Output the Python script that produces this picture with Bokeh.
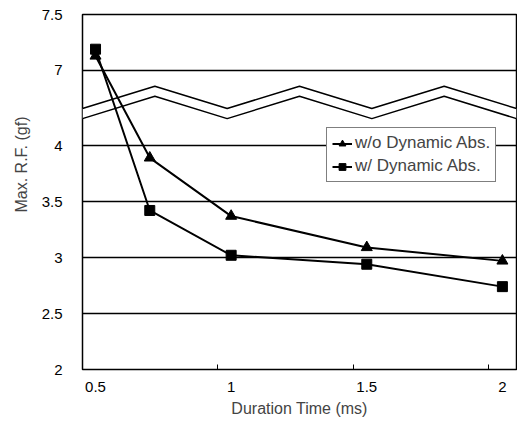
import numpy as np
from bokeh.plotting import figure
from bokeh.models import FixedTicker, Legend, LegendItem, Range1d, Title
from bokeh.embed import file_html
from bokeh.resources import INLINE

# ---- data ----
duration = [0.5, 0.7, 1.0, 1.5, 2.0]
wo_dynamic = [7.13, 3.89, 3.37, 3.09, 2.97]
w_dynamic = [7.19, 3.42, 3.02, 2.94, 2.74]
y_tick_values = [2, 2.5, 3, 3.5, 4, 7, 7.5]
x_tick_values = [0.5, 1, 1.5, 2]

# broken axis: values above the break are shifted down
BREAK_LOW = 4.0
BREAK_HIGH = 7.0
GAP = 0.67


def disp(v):
    return v if v <= BREAK_LOW else round(v - BREAK_HIGH + BREAK_LOW + GAP, 6)


wo_d = [disp(v) for v in wo_dynamic]
w_d = [disp(v) for v in w_dynamic]
y_ticks = [disp(v) for v in y_tick_values]

FONT = "Liberation Sans"
x0, x1 = 0.452, 2.052
p = figure(width=517, height=423, output_backend="svg", toolbar_location=None,
           x_range=Range1d(x0, x1), y_range=Range1d(2, disp(7.5)),
           min_border_left=82, min_border_right=1, min_border_top=14,
           min_border_bottom=54)
p.outline_line_color = "black"
p.outline_line_width = 1.5

# axes
p.yaxis.ticker = FixedTicker(ticks=y_ticks)
p.yaxis.major_label_overrides = {t: (str(v) if v != int(v) else str(int(v)))
                                 for t, v in zip(y_ticks, y_tick_values)}
p.xaxis.ticker = FixedTicker(ticks=x_tick_values,
                             minor_ticks=[t - 0.05 for t in x_tick_values[1:]])
p.xaxis.major_label_overrides = {0.5: "0.5", 1: "1", 1.5: "1.5", 2: "2"}
for ax in (p.xaxis[0], p.yaxis[0]):
    ax.axis_line_color = None
    ax.major_tick_line_color = None
    ax.major_label_text_font = FONT
    ax.major_label_text_font_size = "15px"
    ax.major_label_text_color = "black"
p.xaxis.minor_tick_in = 5
p.xaxis.minor_tick_out = 0
p.xaxis.minor_tick_line_color = "black"
p.yaxis.minor_tick_line_color = None
p.yaxis.major_label_standoff = 14
p.xaxis.major_label_standoff = 6
p.xaxis.axis_label = "Duration Time (ms)"
p.xaxis.axis_label_text_font = FONT
p.xaxis.axis_label_text_font_size = "16px"
p.xaxis.axis_label_text_font_style = "normal"
p.xaxis.axis_label_standoff = 5

p.xgrid.grid_line_color = None
p.ygrid.grid_line_color = "black"
p.ygrid.grid_line_width = 1.3

# axis break (zigzag strip)
zx = np.linspace(x0, x1, 7)
amp, trough, thick = 0.2, 4.33, 0.09
upper = [trough + (amp if i % 2 else 0) for i in range(7)]
lower = [u - thick for u in upper]
p.patch(list(zx) + list(zx[::-1]), upper + lower[::-1],
        fill_color="white", line_color=None)
p.line(zx, upper, line_color="black", line_width=1.5)
p.line(zx, lower, line_color="black", line_width=1.5)

# series
l1 = p.line(duration, wo_d, line_color="black", line_width=2)
m1 = p.scatter(duration, wo_d, marker="triangle", size=11, color="black")
l2 = p.line(duration, w_d, line_color="black", line_width=2)
m2 = p.scatter(duration, w_d, marker="square", size=10, color="black")

legend = Legend(items=[LegendItem(label="w/o Dynamic Abs.", renderers=[l1, m1]),
                       LegendItem(label="w/ Dynamic Abs.", renderers=[l2, m2])],
                location=(244, 187), label_text_font=FONT,
                label_text_font_size="17px", glyph_width=20, glyph_height=17,
                label_height=17, label_standoff=3, spacing=3, padding=5,
                margin=0, border_line_color="black", border_line_width=1,
                background_fill_alpha=1.0)
p.add_layout(legend, "center")

# y-axis title
p.add_layout(Title(text="Max. R.F. (gf)", align="left", offset=157,
                   text_font=FONT, text_font_size="16px",
                   text_font_style="normal", standoff=17), "left")

open("out.html", "w").write(file_html(p, INLINE))
